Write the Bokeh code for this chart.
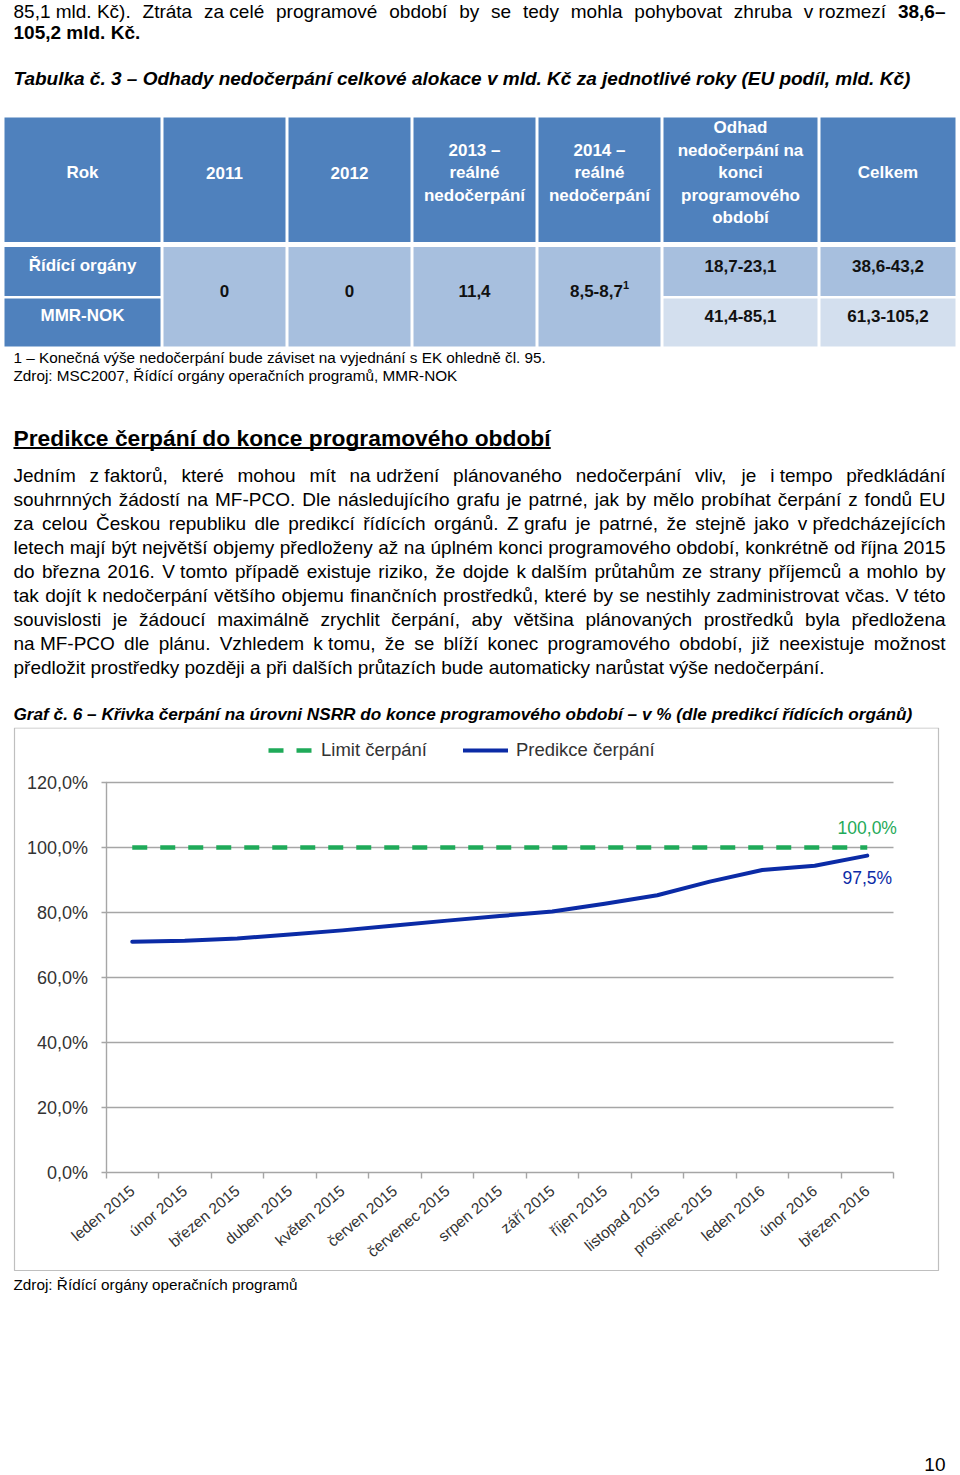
import math
import unicodedata
from bokeh.plotting import figure
from bokeh.models import Range1d, FixedTicker, Legend, LegendItem, ColumnDataSource
from bokeh.layouts import column
from bokeh.core.properties import value
from bokeh.embed import file_html
from bokeh.resources import INLINE

FONT = "Liberation Sans"

# ---------------- chart data ----------------
months = ["leden 2015", "únor 2015", "březen 2015", "duben 2015", "květen 2015",
          "červen 2015", "červenec 2015", "srpen 2015", "září 2015", "říjen 2015",
          "listopad 2015", "prosinec 2015", "leden 2016", "únor 2016", "březen 2016"]
limit_cerpani = [100.0, 100.0, 100.0, 100.0, 100.0, 100.0, 100.0, 100.0,
                 100.0, 100.0, 100.0, 100.0, 100.0, 100.0, 100.0]
predikce_cerpani = [71.0, 71.3, 72.0, 73.2, 74.5, 76.0, 77.5, 78.9,
                    80.3, 82.7, 85.3, 89.5, 93.1, 94.4, 97.5]
y_ticks = [0, 20, 40, 60, 80, 100, 120]
y_tick_labels = ["0,0%", "20,0%", "40,0%", "60,0%", "80,0%", "100,0%", "120,0%"]
series_names = ["Limit čerpání", "Predikce čerpání"]
end_labels = ["100,0%", "97,5%"]

# ---------------- table data ----------------
table_header = [["Rok"], ["2011"], ["2012"], ["2013 –", "reálné", "nedočerpání"],
                ["2014 –", "reálné", "nedočerpání"],
                ["Odhad", "nedočerpání na", "konci", "programového", "období"], ["Celkem"]]
row_names = ["Řídící orgány", "MMR-NOK"]
merged_values = ["0", "0", "11,4", "8,5-8,7"]
footnote_mark = "1"
odhad_values = ["18,7-23,1", "41,4-85,1"]
celkem_values = ["38,6-43,2", "61,3-105,2"]

# ---------------- page texts ----------------
intro_line1 = "85,1\u00a0mld.\u00a0Kč). Ztráta za\u00a0celé programové období by se tedy mohla pohybovat zhruba v\u00a0rozmezí"
intro_line1_bold = "38,6–"
intro_line2 = "105,2 mld. Kč."
table_caption = "Tabulka č. 3 – Odhady nedočerpání celkové alokace v mld. Kč za jednotlivé roky (EU podíl, mld. Kč)"
table_notes = ["1 – Konečná výše nedočerpání bude záviset na vyjednání s EK ohledně čl. 95.",
               "Zdroj: MSC2007, Řídící orgány operačních programů, MMR-NOK"]
heading = "Predikce čerpání do konce programového období"
paragraph = [
    "Jedním z\u00a0faktorů, které mohou mít na\u00a0udržení plánovaného nedočerpání vliv, je i\u00a0tempo předkládání",
    "souhrnných žádostí na MF-PCO. Dle následujícího grafu je patrné, jak by mělo probíhat čerpání z fondů EU",
    "za celou Českou republiku dle predikcí řídících orgánů. Z\u00a0grafu je patrné, že stejně jako v\u00a0předcházejících",
    "letech mají být největší objemy předloženy až na úplném konci programového období, konkrétně od října 2015",
    "do března 2016. V\u00a0tomto případě existuje riziko, že dojde k\u00a0dalším průtahům ze strany příjemců a mohlo by",
    "tak dojít k\u00a0nedočerpání většího objemu finančních prostředků, které by se nestihly zadministrovat včas. V\u00a0této",
    "souvislosti je žádoucí maximálně zrychlit čerpání, aby většina plánovaných prostředků byla předložena",
    "na\u00a0MF-PCO dle plánu. Vzhledem k\u00a0tomu, že se blíží konec programového období, již neexistuje možnost",
    "předložit prostředky později a při dalších průtazích bude automaticky narůstat výše nedočerpání.",
]
chart_caption = "Graf č. 6 – Křivka čerpání na úrovni NSRR do konce programového období – v % (dle predikcí řídících orgánů)"
chart_source = "Zdroj: Řídící orgány operačních programů"
page_number = "10"

# ---------------- Arial / Liberation Sans advance widths ----------------
REG = {' ': 278, '\u00a0': 278, '(': 333, ')': 333, ',': 278, '-': 333, '.': 278, ':': 278,
       '%': 889, '–': 556, 'í': 278,
       'A': 667, 'B': 667, 'C': 722, 'D': 722, 'E': 667, 'F': 611, 'G': 778, 'H': 722, 'I': 278,
       'J': 500, 'K': 667, 'L': 556, 'M': 833, 'N': 722, 'O': 778, 'P': 667, 'Q': 778, 'R': 722,
       'S': 667, 'T': 611, 'U': 722, 'V': 667, 'W': 944, 'X': 667, 'Y': 667, 'Z': 611,
       'a': 556, 'b': 556, 'c': 500, 'd': 556, 'e': 556, 'f': 278, 'g': 556, 'h': 556, 'i': 222,
       'j': 222, 'k': 500, 'l': 222, 'm': 833, 'n': 556, 'o': 556, 'p': 556, 'q': 556, 'r': 333,
       's': 500, 't': 278, 'u': 556, 'v': 500, 'w': 722, 'x': 500, 'y': 500, 'z': 500}
BOLD = {' ': 278, '\u00a0': 278, '(': 333, ')': 333, ',': 278, '-': 333, '.': 278, ':': 333,
        '%': 889, '–': 556, 'í': 278,
        'A': 722, 'B': 722, 'C': 722, 'D': 722, 'E': 667, 'F': 611, 'G': 778, 'H': 722, 'I': 278,
        'J': 556, 'K': 722, 'L': 611, 'M': 833, 'N': 722, 'O': 778, 'P': 667, 'Q': 778, 'R': 722,
        'S': 667, 'T': 611, 'U': 722, 'V': 667, 'W': 944, 'X': 667, 'Y': 667, 'Z': 611,
        'a': 556, 'b': 611, 'c': 556, 'd': 611, 'e': 556, 'f': 333, 'g': 611, 'h': 611, 'i': 278,
        'j': 278, 'k': 556, 'l': 278, 'm': 889, 'n': 611, 'o': 611, 'p': 611, 'q': 611, 'r': 389,
        's': 556, 't': 333, 'u': 611, 'v': 556, 'w': 778, 'x': 556, 'y': 556, 'z': 500}


def tw(s, bold, size):
    tab = BOLD if bold else REG
    tot = 0
    for ch in s:
        w = tab.get(ch)
        if w is None:
            if ch.isdigit():
                w = 556
            else:
                base = unicodedata.normalize("NFD", ch)[0]
                w = tab.get(base, 556)
        tot += w
    return tot * size / 1000.0


class TextLayer:
    def __init__(self):
        self.groups = {}

    def put(self, x, y, s, size, style="normal", color="#000000", align="left"):
        key = (size, style, color, align)
        g = self.groups.setdefault(key, {"x": [], "y": [], "text": []})
        g["x"].append(x)
        g["y"].append(y)
        g["text"].append(s)

    def line(self, tokens, y, size, x0=13.0, x1=945.0, justify=True, color="#000000"):
        widths = [tw(t, b, size) for t, b in tokens]
        if justify and len(tokens) > 1:
            gap = (x1 - x0 - sum(widths)) / (len(tokens) - 1)
        else:
            gap = REG[' '] * size / 1000.0
        x = x0
        for (t, b), w in zip(tokens, widths):
            self.put(x, y, t, size, "bold" if b else "normal", color)
            x += w + gap

    def flush(self, p):
        for (size, style, color, align), g in self.groups.items():
            p.text(x="x", y="y", text="text", source=ColumnDataSource(g),
                   text_font=value(FONT), text_font_size=value(f"{size}px"),
                   text_font_style=style, text_color=color, text_align=align,
                   text_baseline="middle")


PAGE_W = 960


def no_align(p):
    if "frame_align" in p.properties():
        p.frame_align = False
    return p


def page_figure(height, y_top):
    p = figure(width=PAGE_W, height=height, x_range=Range1d(0, PAGE_W),
               y_range=Range1d(y_top + height, y_top), output_backend="svg",
               toolbar_location=None, title=None, x_axis_location=None, y_axis_location=None,
               min_border=0, outline_line_color=None, background_fill_color="white",
               border_fill_color="white")
    p.grid.grid_line_color = None
    return no_align(p)


# ================= top part of the page =================
TOP_T, TOP_B = 0, 727
top = page_figure(TOP_B - TOP_T, TOP_T)
tl = TextLayer()
BODY = 19

tl.line([(w, False) for w in intro_line1.split(" ")] + [(intro_line1_bold, True)], 10.5, BODY)
tl.put(13, 31.5, intro_line2, BODY, "bold")
tl.put(13, 78, table_caption, BODY, "bold italic")

# table
col_x = [(4, 160), (163, 285), (288, 410), (413, 535), (538, 660), (663, 817), (820, 955)]
HEAD = (117, 241.5)
ROW1 = (246.5, 295.5)
ROW2 = (298, 346)
C_DARK, C_MID, C_LIGHT = "#4F81BD", "#A7BFDE", "#D3DFEE"
ql, qr, qt, qb, qc = [], [], [], [], []


def cell(c, rows, color):
    ql.append(col_x[c][0]); qr.append(col_x[c][1])
    qt.append(rows[0]); qb.append(rows[1]); qc.append(color)


for c in range(len(table_header)):
    cell(c, HEAD, C_DARK)
cell(0, ROW1, C_DARK)
cell(0, ROW2, C_DARK)
for c in range(1, 5):
    cell(c, (ROW1[0], ROW2[1]), C_MID)
cell(5, ROW1, C_MID)
cell(6, ROW1, C_MID)
cell(5, ROW2, C_LIGHT)
cell(6, ROW2, C_LIGHT)
top.quad(left=ql, right=qr, top=qt, bottom=qb, fill_color=qc, line_color=None)

TS = 17
for c, lines in enumerate(table_header):
    cx = sum(col_x[c]) / 2
    nl = len(lines)
    for i, s in enumerate(lines):
        tl.put(cx, 172 + (i - (nl - 1) / 2) * 22.5, s, TS, "bold", "#FFFFFF", "center")
for r, name in enumerate(row_names):
    tl.put(sum(col_x[0]) / 2, [265, 315][r], name, TS, "bold", "#FFFFFF", "center")
for c, v in enumerate(merged_values, start=1):
    cx = sum(col_x[c]) / 2
    if c == 4:
        wm = tw(v, True, TS)
        ws = tw(footnote_mark, True, 11)
        x0 = cx - (wm + ws) / 2
        tl.put(x0, 290, v, TS, "bold", "#111111", "left")
        tl.put(x0 + wm, 284, footnote_mark, 11, "bold", "#111111", "left")
    else:
        tl.put(cx, 290, v, TS, "bold", "#111111", "center")
for r in range(2):
    tl.put(sum(col_x[5]) / 2, [265, 315][r], odhad_values[r], TS, "bold", "#111111", "center")
    tl.put(sum(col_x[6]) / 2, [265, 315][r], celkem_values[r], TS, "bold", "#111111", "center")

SMALL = 15.3
tl.put(13, 357, table_notes[0], SMALL)
tl.put(13, 375, table_notes[1], SMALL)

HS = 22.8
tl.put(13, 437, heading, HS, "bold")
top.segment(x0=[13], x1=[13 + tw(heading, True, HS)], y0=[447.5], y1=[447.5],
            line_color="#000000", line_width=1.8)

for i, ln in enumerate(paragraph):
    last = i == len(paragraph) - 1
    tl.line([(w, False) for w in ln.split(" ")], 475 + 24 * i, BODY, justify=not last)

tl.put(13, 713, chart_caption, 17.2, "bold italic")
tl.flush(top)

# ================= chart =================
n = len(months)
xs = [i + 0.5 for i in range(n)]
CAN_T, CAN_B = 727, 1271          # chart canvas on the page
BOX_L, BOX_R, BOX_T, BOX_B = 14, 938, 727.5, 1270   # grey chart frame
PX0, PX1 = 105.5, 893.0           # page x of category 0 / n boundaries
PY0, PY1 = 1172.0, 782.0          # page y of 0 % and 120 %
kx = (PX1 - PX0) / n
ky = (PY0 - PY1) / (y_ticks[-1] - y_ticks[0])
x_rng = Range1d(-PX0 / kx, n + (PAGE_W - PX1) / kx)
y_rng = Range1d(y_ticks[0] - (CAN_B - PY0) / ky, y_ticks[-1] + (PY1 - CAN_T) / ky)

GRAY = "#A6A6A6"
GREEN = "#1FAA59"
BLUE = "#0B2BA6"
TXT = "#333333"

ch = figure(width=PAGE_W, height=CAN_B - CAN_T, x_range=x_rng, y_range=y_rng,
            output_backend="svg", toolbar_location=None, title=None, min_border=0,
            outline_line_color=None, background_fill_color="white", border_fill_color="white")
no_align(ch)
ch.grid.visible = False

# grey frame around the chart
ch.quad(left=[(BOX_L - PX0) / kx], right=[n + (BOX_R - PX1) / kx],
        top=[y_ticks[-1] + (PY1 - BOX_T) / ky], bottom=[y_ticks[0] - (BOX_B - PY0) / ky],
        fill_color=None, line_color="#BFBFBF", line_width=1.2)

# horizontal gridlines
ch.segment(x0=[0] * (len(y_ticks) - 1), x1=[n] * (len(y_ticks) - 1),
           y0=y_ticks[1:], y1=y_ticks[1:], line_color=GRAY, line_width=1.4)

xa = ch.xaxis[0]
xa.fixed_location = y_ticks[0]
xa.bounds = (0, n)
xa.ticker = FixedTicker(ticks=xs, minor_ticks=list(range(n + 1)))
ov = {}
for x, m in zip(xs, months):
    ov[x] = m
    ov[str(x)] = m
xa.major_label_overrides = ov
xa.major_label_orientation = math.radians(40)
xa.major_tick_out = 0
xa.major_tick_in = 0
xa.minor_tick_out = 6
xa.minor_tick_in = 0
xa.minor_tick_line_color = GRAY
xa.minor_tick_line_width = 1.4
xa.axis_line_color = GRAY
xa.axis_line_width = 1.4
xa.major_label_standoff = 10
xa.major_label_text_font = FONT
xa.major_label_text_font_size = "15.5px"
xa.major_label_text_color = TXT

ya = ch.yaxis[0]
ya.fixed_location = 0
ya.bounds = (y_ticks[0], y_ticks[-1])
ya.ticker = FixedTicker(ticks=y_ticks)
yov = {}
for t, s in zip(y_ticks, y_tick_labels):
    yov[t] = s
    yov[str(t)] = s
ya.major_label_overrides = yov
ya.major_tick_out = 5
ya.major_tick_in = 0
ya.minor_tick_out = 0
ya.minor_tick_in = 0
ya.major_tick_line_color = GRAY
ya.major_tick_line_width = 1.4
ya.axis_line_color = GRAY
ya.axis_line_width = 1.4
ya.major_label_standoff = 13
ya.major_label_text_font = FONT
ya.major_label_text_font_size = "18px"
ya.major_label_text_color = TXT

r_limit = ch.line(xs, limit_cerpani, line_color=GREEN, line_width=4.5, line_dash="15 13")
r_pred = ch.line(xs, predikce_cerpani, line_color=BLUE, line_width=4, line_join="round",
                 line_cap="round")

lab = ColumnDataSource(dict(x=[xs[-1], xs[-1]], y=[limit_cerpani[-1], predikce_cerpani[-1]],
                            text=end_labels, color=[GREEN, BLUE], dy=[-20, 22]))
ch.text(x="x", y="y", text="text", source=lab, text_color="color", y_offset="dy",
        text_align="center", text_baseline="middle", text_font=value(FONT),
        text_font_size=value("17.5px"))

legend = Legend(items=[LegendItem(label=series_names[0], renderers=[r_limit]),
                       LegendItem(label=series_names[1], renderers=[r_pred])],
                orientation="horizontal", location=(268, CAN_B - 761),
                glyph_width=45, glyph_height=20, label_standoff=8, spacing=36,
                padding=0, margin=0, border_line_color=None, background_fill_alpha=0,
                label_text_font=FONT, label_text_font_size="18.5px", label_text_color=TXT)
ch.add_layout(legend)

# ================= bottom part =================
BOT_T, BOT_B = CAN_B, 1474
bot = page_figure(BOT_B - BOT_T, BOT_T)
bl = TextLayer()
bl.put(13, 1284, chart_source, SMALL)
bl.put(945, 1464, page_number, 19, "normal", "#000000", "right")
bl.flush(bot)

layout = column(top, ch, bot, spacing=0)
open("out.html", "w").write(file_html(layout, INLINE))
